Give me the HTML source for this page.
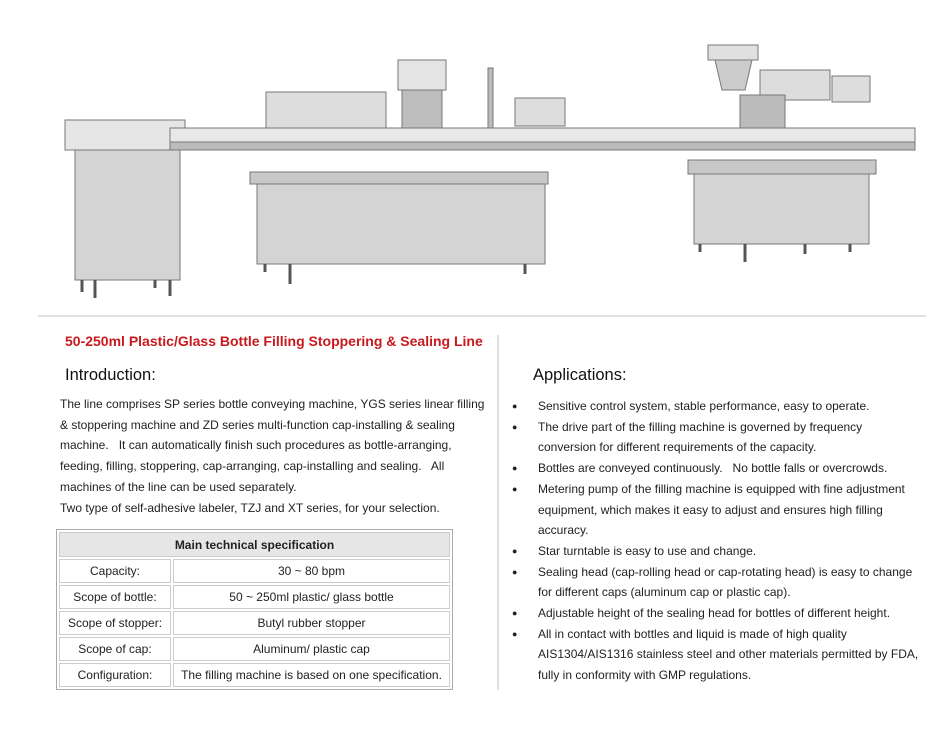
<!DOCTYPE html>
<html><head><style>
body{margin:0;width:950px;height:750px;background:#fff;position:relative;overflow:hidden;font-family:"Liberation Sans",Arial,sans-serif;color:#222}
.a{position:absolute}
p{margin:0}
.t{font-size:12px;line-height:20.7px;white-space:nowrap}
.b p{padding-left:26px;position:relative}
.b p.d:before{content:"●";position:absolute;left:0;top:0;font-size:9px}
table{border-collapse:separate;border-spacing:2px;border:1px solid #aaa;font-size:12px}
td{border:1px solid #ccc;text-align:center;height:22px;padding:0}
</style></head><body>
<svg class="a" style="left:0;top:0" width="950" height="310">
<g fill="#d4d4d4" stroke="#777" stroke-width="1">
<rect x="75" y="150" width="105" height="130"/>
<rect x="65" y="120" width="120" height="30" fill="#e6e6e6"/>
<rect x="170" y="128" width="745" height="14" fill="#e8e8e8"/>
<rect x="170" y="142" width="745" height="8" fill="#bbb"/>
<rect x="250" y="172" width="298" height="12" fill="#c8c8c8"/>
<rect x="257" y="184" width="288" height="80"/>
<rect x="266" y="92" width="120" height="36" fill="#ddd"/>
<rect x="398" y="60" width="48" height="30" fill="#e4e4e4"/>
<rect x="402" y="90" width="40" height="38" fill="#bdbdbd"/>
<rect x="488" y="68" width="5" height="60" fill="#bbb"/>
<rect x="515" y="98" width="50" height="28" fill="#ddd"/>
<rect x="688" y="160" width="188" height="14" fill="#c8c8c8"/>
<rect x="694" y="174" width="175" height="70"/>
<rect x="708" y="45" width="50" height="15" fill="#e0e0e0"/>
<polygon points="715,60 752,60 745,90 722,90" fill="#ccc"/>
<rect x="760" y="70" width="70" height="30" fill="#ddd"/>
<rect x="832" y="76" width="38" height="26" fill="#ddd"/>
<rect x="740" y="95" width="45" height="33" fill="#bbb"/>
</g>
<g stroke="#555" stroke-width="3">
<line x1="82" y1="280" x2="82" y2="292"/><line x1="95" y1="280" x2="95" y2="298"/><line x1="155" y1="280" x2="155" y2="288"/><line x1="170" y1="280" x2="170" y2="296"/>
<line x1="265" y1="264" x2="265" y2="272"/><line x1="290" y1="264" x2="290" y2="284"/><line x1="525" y1="264" x2="525" y2="274"/><line x1="700" y1="244" x2="700" y2="252"/><line x1="745" y1="244" x2="745" y2="262"/><line x1="805" y1="244" x2="805" y2="254"/><line x1="850" y1="244" x2="850" y2="252"/>
</g>
</svg>
<div class="a" style="left:38px;top:315px;width:888px;height:2px;background:#e0e0e0"></div>
<div class="a" style="left:497px;top:335px;width:2px;height:355px;background:#e0e0e0"></div>
<div class="a" style="left:65px;top:333px;font-size:14px;font-weight:bold;color:#c8191e">50-250ml Plastic/Glass Bottle Filling Stoppering &amp; Sealing Line</div>
<div class="a" style="left:65px;top:366px;font-size:16.5px;color:#111">Introduction:</div>
<div class="a" style="left:533px;top:366px;font-size:16.5px;color:#111">Applications:</div>
<div class="a t" style="left:60px;top:394px">
<p>The line comprises SP series bottle conveying machine, YGS series linear filling</p>
<p>&amp; stoppering machine and ZD series multi-function cap-installing &amp; sealing</p>
<p>machine.&nbsp;&nbsp; It can automatically finish such procedures as bottle-arranging,</p>
<p>feeding, filling, stoppering, cap-arranging, cap-installing and sealing.&nbsp;&nbsp; All</p>
<p>machines of the line can be used separately.</p>
<p>Two type of self-adhesive labeler, TZJ and XT series, for your selection.</p>
</div>
<table class="a" style="left:56px;top:529px;width:397px">
<tr><td colspan="2" style="background:#e6e6e6;font-weight:bold;height:23px">Main technical specification</td></tr>
<tr><td style="width:110px">Capacity:</td><td>30 ~ 80 bpm</td></tr>
<tr><td>Scope of bottle:</td><td>50 ~ 250ml plastic/ glass bottle</td></tr>
<tr><td>Scope of stopper:</td><td>Butyl rubber stopper</td></tr>
<tr><td>Scope of cap:</td><td>Aluminum/ plastic cap</td></tr>
<tr><td>Configuration:</td><td>The filling machine is based on one specification.</td></tr>
</table>
<div class="a t b" style="left:512px;top:396px">
<p class="d">Sensitive control system, stable performance, easy to operate.</p>
<p class="d">The drive part of the filling machine is governed by frequency</p>
<p>conversion for different requirements of the capacity.</p>
<p class="d">Bottles are conveyed continuously.&nbsp;&nbsp; No bottle falls or overcrowds.</p>
<p class="d">Metering pump of the filling machine is equipped with fine adjustment</p>
<p>equipment, which makes it easy to adjust and ensures high filling</p>
<p>accuracy.</p>
<p class="d">Star turntable is easy to use and change.</p>
<p class="d">Sealing head (cap-rolling head or cap-rotating head) is easy to change</p>
<p>for different caps (aluminum cap or plastic cap).</p>
<p class="d">Adjustable height of the sealing head for bottles of different height.</p>
<p class="d">All in contact with bottles and liquid is made of high quality</p>
<p>AIS1304/AIS1316 stainless steel and other materials permitted by FDA,</p>
<p>fully in conformity with GMP regulations.</p>
</div>
</body></html>
